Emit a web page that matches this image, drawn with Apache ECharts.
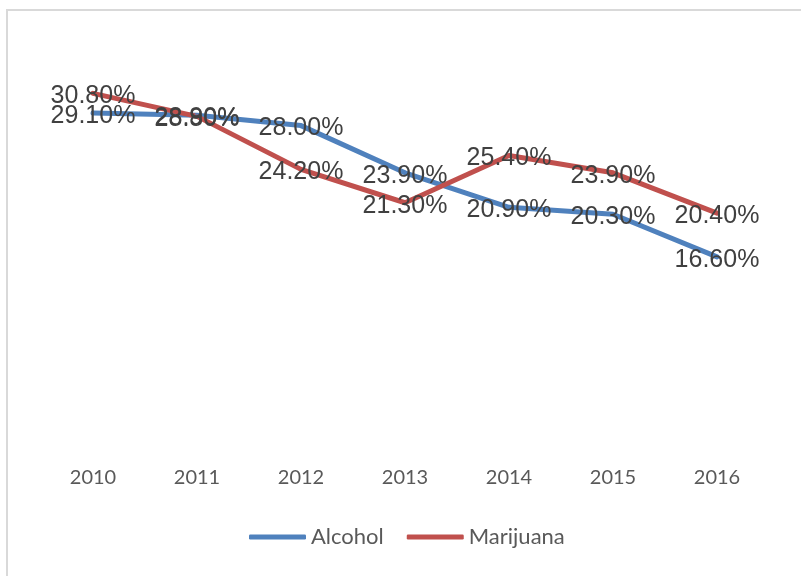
<!DOCTYPE html>
<html>
<head>
<meta charset="utf-8">
<script src="https://cdn.jsdelivr.net/npm/echarts@6/dist/echarts.min.js"></script>
<style>html,body{margin:0;padding:0;background:#fff}#c{width:801px;height:576px}</style>
</head>
<body>
<div id="c"></div>
<script>
var years = ['2010','2011','2012','2013','2014','2015','2016'];
var alcohol = [29.1, 28.9, 28.0, 23.9, 20.9, 20.3, 16.6];
var marijuana = [30.8, 28.8, 24.2, 21.3, 25.4, 23.9, 20.4];

var chart = echarts.init(document.getElementById('c'));
var lbl = {
  show: true,
  position: 'inside',
  offset: [0, 3],
  fontFamily: 'Liberation Sans, Arial, sans-serif',
  fontSize: 25,
  color: '#404040',
  formatter: function (p) { return p.value.toFixed(2) + '%'; }
};
chart.setOption({
  animation: false,
  graphic: [{
    type: 'rect',
    shape: { x: 7, y: 10, width: 1000, height: 1000 },
    style: { fill: 'none', stroke: '#d9d9d9', lineWidth: 2 },
    silent: true
  }],
  grid: { left: 41, right: 32, top: 45, bottom: 128 },
  legend: {
    bottom: 23,
    left: 244,
    itemWidth: 57,
    itemHeight: 5,
    itemGap: 23,
    textStyle: { fontFamily: 'Lato, sans-serif', fontSize: 22, color: '#595959' },
    data: [
      { name: 'Alcohol', icon: 'roundRect' },
      { name: 'Marijuana', icon: 'roundRect' }
    ]
  },
  xAxis: {
    type: 'category',
    data: years,
    boundaryGap: true,
    axisLine: { show: false },
    axisTick: { show: false },
    axisLabel: { fontFamily: 'Lato, sans-serif', fontSize: 20, color: '#595959', margin: 20 }
  },
  yAxis: {
    type: 'value',
    min: 0,
    max: 35,
    interval: 5,
    show: false,
    splitLine: { show: false }
  },
  series: [
    {
      name: 'Alcohol', type: 'line', data: alcohol,
      showSymbol: true, symbol: 'circle', symbolSize: 4,
      lineStyle: { color: '#4F81BD', width: 5, cap: 'round' },
      itemStyle: { color: '#4F81BD' },
      label: lbl
    },
    {
      name: 'Marijuana', type: 'line', data: marijuana,
      showSymbol: true, symbol: 'circle', symbolSize: 4,
      lineStyle: { color: '#C0504D', width: 5, cap: 'round' },
      itemStyle: { color: '#C0504D' },
      label: lbl
    }
  ]
});
</script>
</body>
</html>
